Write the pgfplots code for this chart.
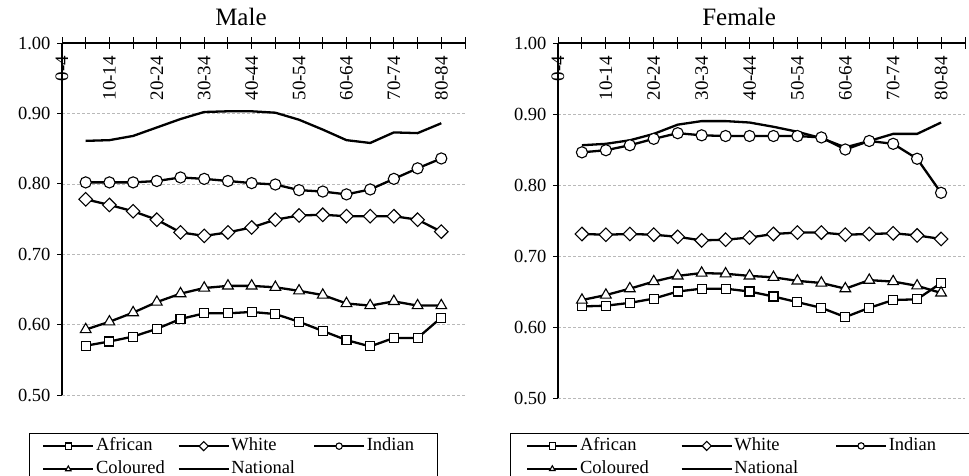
\documentclass[border=0pt]{standalone}
\usepackage{fontspec}
\setmainfont{Liberation Serif}
\usepackage{pgfplots}
\usepackage{pgfplotstable}
\pgfplotsset{compat=1.18}

\pgfplotstableread{
x African White Indian Coloured National
1  0.570 0.778 0.802 0.593 0.861
2  0.576 0.770 0.802 0.604 0.862
3  0.583 0.761 0.802 0.617 0.868
4  0.594 0.749 0.804 0.632 0.880
5  0.608 0.731 0.809 0.644 0.892
6  0.616 0.726 0.807 0.652 0.902
7  0.616 0.731 0.804 0.655 0.903
8  0.618 0.738 0.801 0.655 0.903
9  0.615 0.749 0.799 0.653 0.901
10 0.604 0.755 0.791 0.648 0.891
11 0.591 0.756 0.789 0.642 0.877
12 0.578 0.754 0.785 0.630 0.862
13 0.569 0.754 0.792 0.627 0.858
14 0.581 0.754 0.807 0.633 0.873
15 0.581 0.749 0.822 0.627 0.872
16 0.610 0.732 0.836 0.627 0.886
}\male

\pgfplotstableread{
x African White Indian Coloured National
1  0.629 0.731 0.846 0.638 0.856
2  0.630 0.730 0.849 0.645 0.858
3  0.634 0.731 0.856 0.654 0.863
4  0.640 0.730 0.865 0.664 0.872
5  0.650 0.727 0.873 0.672 0.885
6  0.654 0.722 0.870 0.676 0.890
7  0.654 0.723 0.869 0.675 0.890
8  0.650 0.726 0.869 0.672 0.888
9  0.643 0.731 0.869 0.670 0.882
10 0.635 0.733 0.869 0.665 0.875
11 0.627 0.733 0.867 0.662 0.866
12 0.614 0.730 0.850 0.654 0.853
13 0.627 0.731 0.862 0.666 0.862
14 0.638 0.732 0.858 0.664 0.872
15 0.639 0.729 0.837 0.658 0.872
16 0.662 0.724 0.789 0.648 0.888
}\female

\pgfplotsset{
  agestyle/.style={
    scale only axis,
    xmin=0, xmax=17, ymin=0.5, ymax=1.0,
    axis x line*=top, axis y line*=left,
    axis line style={line width=1.2bp, black},
    xtick={0,...,17},
    minor xtick={0,...,17},
    xticklabels={{0-4},{},{10-14},{},{20-24},{},{30-34},{},{40-44},{},{50-54},{},{60-64},{},{70-74},{},{80-84},{}},
    xtick align=center, ytick align=outside,
    major tick length=5bp,
    minor tick length=12bp,
    ytick={0.5,0.6,0.7,0.8,0.9,1.0},
    tick style={black, line width=1bp},
    minor tick style={black, line width=1bp},
    ymajorgrids,
    major grid style={gray!55, line width=0.6bp, dash pattern=on 3bp off 2bp},
    /pgf/number format/assume math mode=true,
    yticklabel style={/pgf/number format/.cd, fixed, fixed zerofill, precision=2, /tikz/.cd,
      font=\fontsize{18.5bp}{21bp}\selectfont, xshift=-3bp},
    xticklabel style={font=\fontsize{19bp}{21bp}\selectfont, yshift=-12bp, rotate=90, anchor=east},
    title style={font=\fontsize{25bp}{28bp}\selectfont, anchor=base, yshift=0bp},
    legend columns=3,
    legend cell align=left,
    legend style={draw=black, line width=1.3bp, font=\fontsize{18.5bp}{21bp}\selectfont,
      nodes={inner sep=2bp, text height=13bp, text depth=4bp}, row sep=2bp, column sep=0bp},
    legend image code/.code={\draw[mark repeat=2, mark phase=2, ##1, mark size=3.2bp, line width=1.4bp]
      plot coordinates {(0bp,0bp) (25bp,0bp) (50bp,0bp)};},
  },
  sA/.style={black, line width=2.3bp, mark=square*, mark size=4.5bp, mark options={fill=white, line width=1.1bp}},
  sW/.style={black, line width=2.3bp, mark=square*, mark size=4.8bp, mark options={fill=white, line width=1.1bp, rotate=45}},
  sI/.style={black, line width=2.3bp, mark=*, mark size=5.6bp, mark options={fill=white, line width=1.1bp}},
  sC/.style={black, line width=2.3bp, mark=triangle*, mark size=6.2bp, mark options={fill=white, line width=1.1bp}},
  sN/.style={black, line width=2.3bp, no marks},
}

\begin{document}
\begin{tikzpicture}
\begin{axis}[agestyle, at={(62bp,-395bp)}, anchor=south west, width=403bp, height=352bp,
  title={Male}, title style={at={(0.444,1.032)}},
  legend style={at={(-0.082,-0.108)}, anchor=north west, inner xsep=13bp, inner ysep=2bp}]
\addplot[sA] table[x=x, y=African] {\male};
\addlegendentry{\makebox[80bp][l]{African}}
\addplot[sW] table[x=x, y=White] {\male};
\addlegendentry{\makebox[80bp][l]{White}}
\addplot[sI] table[x=x, y=Indian] {\male};
\addlegendentry{\makebox[56bp][l]{Indian}}
\addplot[sC] table[x=x, y=Coloured] {\male};
\addlegendentry{\makebox[80bp][l]{Coloured}}
\addplot[sN] table[x=x, y=National] {\male};
\addlegendentry{\makebox[80bp][l]{National}}
\end{axis}

\begin{axis}[agestyle, at={(558bp,-398bp)}, anchor=south west, width=407bp, height=355bp,
  title={Female}, title style={at={(0.445,1.032)}},
  legend style={at={(-0.118,-0.098)}, anchor=north west, inner xsep=16bp, inner ysep=2bp}]
\addplot[sA] table[x=x, y=African] {\female};
\addlegendentry{\makebox[99bp][l]{African}}
\addplot[sW] table[x=x, y=White] {\female};
\addlegendentry{\makebox[99bp][l]{White}}
\addplot[sI] table[x=x, y=Indian] {\female};
\addlegendentry{\makebox[120bp][l]{Indian}}
\addplot[sC] table[x=x, y=Coloured] {\female};
\addlegendentry{\makebox[99bp][l]{Coloured}}
\addplot[sN] table[x=x, y=National] {\female};
\addlegendentry{\makebox[99bp][l]{National}}
\end{axis}
\pgfresetboundingbox
\useasboundingbox (0bp,0bp) rectangle (969bp,-476bp);
\end{tikzpicture}
\end{document}
